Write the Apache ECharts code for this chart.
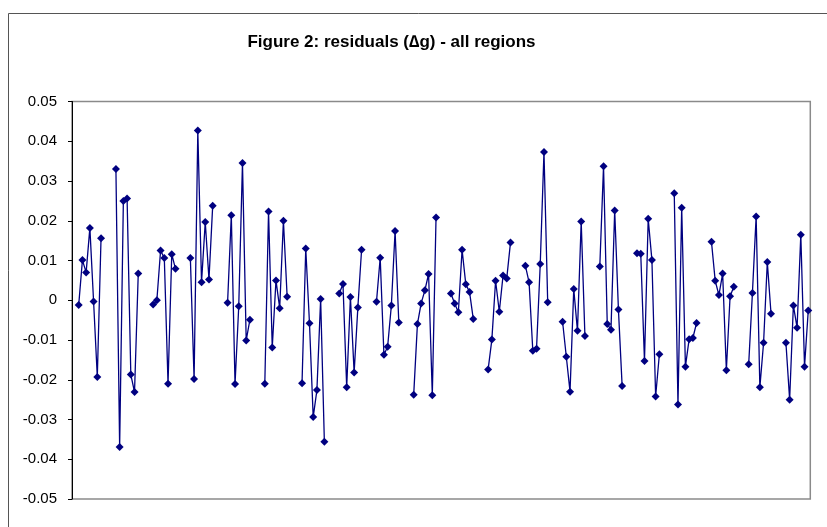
<!DOCTYPE html>
<html>
<head>
<meta charset="utf-8">
<script src="https://cdn.jsdelivr.net/npm/echarts@6/dist/echarts.min.js"></script>
<style>html,body{margin:0;padding:0;background:#fff}#c{width:827px;height:527px}</style>
</head>
<body>
<div id="c"></div>
<script>
// Residuals per region block (7 observations each), blocks separated by gaps
const region01 = [-0.0012, 0.0101, 0.0070, 0.0182, -0.0003, -0.0193, 0.0156];
const region02 = [0.0330, -0.0369, 0.0250, 0.0256, -0.0187, -0.0231, 0.0067];
const region03 = [-0.0011, 0.0000, 0.0125, 0.0106, -0.0210, 0.0116, 0.0079];
const region04 = [0.0106, -0.0198, 0.0427, 0.0045, 0.0197, 0.0052, 0.0238];
const region05 = [-0.0006, 0.0214, -0.0211, -0.0015, 0.0345, -0.0101, -0.0049];
const region06 = [-0.0210, 0.0223, -0.0119, 0.0050, -0.0020, 0.0200, 0.0009];
const region07 = [-0.0209, 0.0130, -0.0058, -0.0294, -0.0226, 0.0003, -0.0356];
const region08 = [0.0017, 0.0041, -0.0219, 0.0008, -0.0182, -0.0018, 0.0127];
const region09 = [-0.0004, 0.0107, -0.0137, -0.0117, -0.0013, 0.0174, -0.0056];
const region10 = [-0.0238, -0.0060, -0.0008, 0.0025, 0.0066, -0.0239, 0.0208];
const region11 = [0.0017, -0.0008, -0.0030, 0.0127, 0.0040, 0.0021, -0.0047];
const region12 = [-0.0174, -0.0099, 0.0049, -0.0029, 0.0062, 0.0055, 0.0145];
const region13 = [0.0087, 0.0045, -0.0127, -0.0122, 0.0091, 0.0373, -0.0005];
const region14 = [-0.0054, -0.0142, -0.0230, 0.0028, -0.0077, 0.0198, -0.0090];
const region15 = [0.0085, 0.0337, -0.0060, -0.0074, 0.0226, -0.0023, -0.0216];
const region16 = [0.0118, 0.0117, -0.0153, 0.0205, 0.0101, -0.0242, -0.0136];
const region17 = [0.0269, -0.0262, 0.0233, -0.0167, -0.0098, -0.0095, -0.0057];
const region18 = [0.0147, 0.0049, 0.0013, 0.0067, -0.0176, 0.0010, 0.0034];
const region19 = [-0.0161, 0.0018, 0.0211, -0.0219, -0.0107, 0.0096, -0.0034];
const region20 = [-0.0107, -0.0250, -0.0013, -0.0069, 0.0165, -0.0167, -0.0026];

const regions = [region01, region02, region03, region04, region05, region06, region07,
  region08, region09, region10, region11, region12, region13, region14, region15,
  region16, region17, region18, region19, region20];

const yTicks = [-0.05, -0.04, -0.03, -0.02, -0.01, 0, 0.01, 0.02, 0.03, 0.04, 0.05];
const titleText = 'Figure 2: residuals (\u2206g) - all regions';
const slotsPerRegion = 10; // 7 observations + 3 empty slots

// Build [observation index, value] pairs; a null value breaks the line between regions
const points = [];
regions.forEach((r, g) => {
  r.forEach((v, j) => points.push([g * slotsPerRegion + j, v]));
  if (g < regions.length - 1) points.push([g * slotsPerRegion + r.length, null]);
});

const chart = echarts.init(document.getElementById('c'), null, {renderer: 'canvas'});
const FONT = '"Liberation Sans", Arial, sans-serif';
chart.setOption({
  animation: false,
  backgroundColor: '#fff',
  graphic: [
    {type: 'rect', shape: {x: 8.5, y: 13.5, width: 900, height: 600},
     style: {fill: null, stroke: '#555', lineWidth: 1}, silent: true, z: -10},
    {type: 'text', x: 391.5, y: 42,
     style: {text: titleText, fill: '#000', font: 'bold 17px ' + FONT,
             textAlign: 'center', textVerticalAlign: 'middle'}}
  ],
  grid: {left: 72, top: 101.5, right: 16.7, bottom: 28, show: true,
         borderColor: '#8a8a8a', borderWidth: 1.5, backgroundColor: 'transparent',
         containLabel: false},
  xAxis: {
    type: 'value', min: -1.8, max: 196.55,
    axisLine: {show: false}, axisTick: {show: false}, axisLabel: {show: false},
    splitLine: {show: false}
  },
  yAxis: {
    type: 'value', min: yTicks[0], max: yTicks[yTicks.length - 1], interval: 0.01,
    axisLine: {show: true, onZero: false, lineStyle: {color: '#000', width: 1}},
    axisTick: {show: true, length: 4, inside: false, lineStyle: {color: '#000'}},
    splitLine: {show: false},
    axisLabel: {margin: 15, color: '#000', fontSize: 15, fontFamily: FONT,
      formatter: v => String(Number(v.toFixed(2)))}
  },
  series: [{
    type: 'line', data: points, connectNulls: false,
    symbol: 'diamond', symbolSize: 8, showAllSymbol: true,
    lineStyle: {color: '#000080', width: 1.3},
    itemStyle: {color: '#000080', borderWidth: 0}
  }]
});
</script>
</body>
</html>
